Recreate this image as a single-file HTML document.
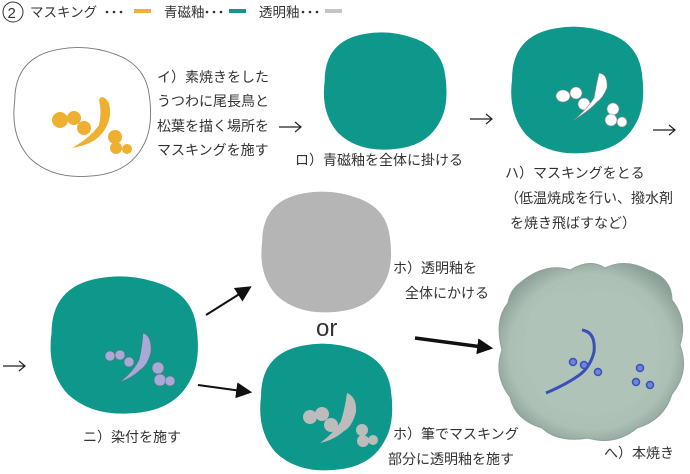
<!DOCTYPE html>
<html><head><meta charset="utf-8"><style>
html,body{margin:0;padding:0;background:#fff;width:690px;height:474px;overflow:hidden}
svg text{font-family:"Liberation Sans","Noto Sans CJK JP",sans-serif;fill:#333}
</style></head><body>
<svg width="690" height="474" viewBox="0 0 690 474" xmlns="http://www.w3.org/2000/svg">
<defs>
<path id="b" d="M -58,-10 Q -58,-50 -20,-57 Q 5,-62 30,-52 Q 55,-42 58,-15 Q 62,15 52,32 Q 40,55 10,58 Q -25,62 -45,42 Q -62,22 -58,-10 Z"/>
<marker id="ah2" viewBox="0 0 10 10" markerWidth="16" markerHeight="16" refX="8" refY="5" orient="auto" markerUnits="userSpaceOnUse"><path d="M0,0 L10,5 L0,10 Z" fill="#111"/></marker>
<radialGradient id="dg" cx="0.5" cy="0.5" r="0.55"><stop offset="0" stop-color="#b8c9c0"/><stop offset="0.8" stop-color="#acc0b6"/><stop offset="1" stop-color="#8a9f95"/></radialGradient>
<g id="arr" fill="none" stroke="#222" stroke-width="1.2"><path d="M0,0 H22 M16,-5 L22,0 L16,5"/></g>
<g id="dots" fill="#333"><circle cx="0" cy="0" r="1.3"/><circle cx="7" cy="0" r="1.3"/><circle cx="14" cy="0" r="1.3"/></g>
</defs>

<!-- legend -->
<circle cx="13" cy="12" r="10" fill="none" stroke="#333" stroke-width="1"/>
<text x="7.5" y="18" font-size="15">2</text>
<text x="30" y="17" font-size="13.5">マスキング</text>
<use href="#dots" x="107" y="12"/>
<rect x="134" y="9" width="17" height="4" fill="#f0b033"/>
<text x="164" y="17" font-size="13.5">青磁釉</text>
<use href="#dots" x="207" y="12"/>
<rect x="229" y="9" width="17" height="4" fill="#0e978b"/>
<text x="259" y="17" font-size="13.5">透明釉</text>
<use href="#dots" x="303" y="12"/>
<rect x="325" y="9" width="17" height="4" fill="#c4c4c4"/>

<!-- plate 1 -->
<use href="#b" transform="translate(82,112) scale(1.16,1.1)" fill="none" stroke="#777" stroke-width="0.8"/>
<g fill="#efaf31">
<circle cx="60" cy="120" r="8"/><circle cx="74" cy="118" r="7"/><circle cx="84" cy="128" r="7"/>
<circle cx="115" cy="137" r="7"/><circle cx="116" cy="148" r="6"/><circle cx="127" cy="149" r="5"/>
<path d="M101,97 Q111,98 110,115 Q108,130 95,140 Q85,146 72,148 Q90,138 99,125 Q102,112 99,100 Z"/>
</g>
<g font-size="14">
<text x="157" y="82">イ）素焼きをした</text>
<text x="157" y="106">うつわに尾長鳥と</text>
<text x="157" y="131">松葉を描く場所を</text>
<text x="157" y="155">マスキングを施す</text>
</g>
<use href="#arr" x="279" y="127"/>

<!-- plate 2 -->
<use href="#b" transform="translate(385,91) scale(1.04,1.0)" fill="#0e978b"/>
<text x="295" y="165" font-size="14">ロ）青磁釉を全体に掛ける</text>
<use href="#arr" x="470" y="119"/>

<!-- plate 3 -->
<use href="#b" transform="translate(577,90) scale(1.12,1.08)" fill="#0e978b"/>
<g fill="#fff" stroke="#888" stroke-width="0.6">
<ellipse cx="563" cy="96" rx="7" ry="6"/><circle cx="576" cy="93" r="6"/><circle cx="584" cy="104" r="6"/>
<circle cx="613" cy="109" r="6"/><circle cx="611" cy="120" r="6"/><circle cx="622" cy="122" r="5"/>
<path d="M599,73 Q608,74 607,88 Q603,98 597,102 Q590,110 574,120 Q588,108 594,98 Q596,86 599,73 Z"/>
</g>
<g font-size="14">
<text x="505" y="178">ハ）マスキングをとる</text>
<text x="505" y="203">（低温焼成を行い、撥水剤</text>
<text x="510" y="228">を焼き飛ばすなど）</text>
</g>
<use href="#arr" x="653" y="130"/>

<!-- row 2 -->
<use href="#arr" x="3" y="366"/>
<use href="#b" transform="translate(124,345) scale(1.25,1.17)" fill="#0e978b"/>
<g fill="#a7a9d6" stroke="#666" stroke-width="0.5">
<circle cx="110" cy="356" r="5"/><circle cx="120" cy="355" r="5"/><circle cx="129" cy="362" r="5"/>
<circle cx="158" cy="368" r="6"/><circle cx="160" cy="380" r="6"/><circle cx="170" cy="381" r="5"/>
<path d="M143,333 Q152,336 151,352 Q148,365 140,370 Q132,378 120,382 Q133,372 139,360 Q142,348 143,333 Z"/>
</g>
<text x="83" y="442" font-size="14">ニ）染付を施す</text>

<line x1="206" y1="315" x2="249" y2="288" stroke="#111" stroke-width="2" marker-end="url(#ah2)"/>
<line x1="198" y1="385" x2="249" y2="392" stroke="#111" stroke-width="2" marker-end="url(#ah2)"/>

<use href="#b" transform="translate(326,252) scale(1.1,1.03)" fill="#b5b5b5"/>
<text x="393" y="273" font-size="14">ホ）透明釉を</text>
<text x="405" y="298" font-size="14">全体にかける</text>
<text x="316" y="336" font-size="24">or</text>

<use href="#b" transform="translate(326,407) scale(1.12,1.08)" fill="#0e978b"/>
<g fill="#bcbcbc">
<circle cx="310" cy="417" r="7"/><circle cx="322" cy="414" r="7"/><circle cx="331" cy="425" r="7"/>
<circle cx="362" cy="430" r="6"/><circle cx="363" cy="441" r="6"/><circle cx="373" cy="440" r="5"/>
<path d="M347,393 Q357,397 356,412 Q352,427 344,431 Q334,440 320,443 Q334,433 341,421 Q345,408 347,393 Z"/>
</g>
<text x="393" y="439" font-size="14">ホ）筆でマスキング</text>
<text x="388" y="464" font-size="14">部分に透明釉を施す</text>

<line x1="415" y1="338" x2="490" y2="348" stroke="#111" stroke-width="3.5" marker-end="url(#ah2)"/>

<!-- final dish -->
<path d="M520,283 Q545,262 570,270 Q590,258 605,268 Q625,258 648,270 Q672,278 672,300 Q688,320 680,345 Q690,372 672,394 Q664,420 637,428 Q615,446 588,438 Q558,443 542,428 Q515,420 510,397 Q493,375 502,350 Q494,320 508,303 Q510,290 520,283 Z" fill="url(#dg)" stroke="#8ea298" stroke-width="1"/>
<path d="M535,305 Q555,288 578,294 Q605,286 628,296 Q652,306 656,330 Q664,362 646,390 Q626,414 595,414 Q562,416 544,398 Q524,375 526,342 Q526,318 535,305 Z" fill="#afc3b9"/>
<g stroke="#3850b8" stroke-width="1.5" fill="#6f85d8">
<path d="M582,330 Q596,332 594,352 Q590,368 578,376 Q565,385 546,393" fill="none" stroke-width="3"/>
<circle cx="573" cy="362" r="3.5"/><circle cx="584" cy="365" r="3.5"/><circle cx="598" cy="372" r="3.5"/>
<circle cx="640" cy="368" r="3.5"/><circle cx="636" cy="382" r="3.5"/><circle cx="650" cy="385" r="3.5"/>
</g>
<text x="604" y="458" font-size="14">へ）本焼き</text>
</svg>
</body></html>
